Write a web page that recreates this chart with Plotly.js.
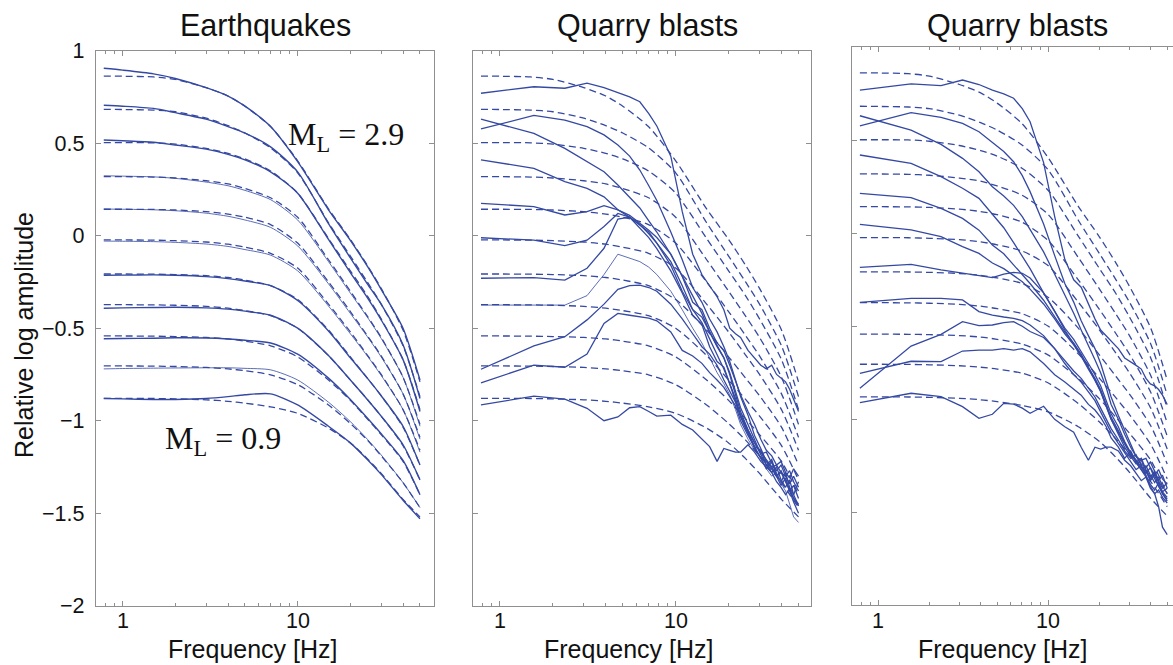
<!DOCTYPE html>
<html><head><meta charset="utf-8">
<script src="https://cdn.plot.ly/plotly-3.0.1.min.js"></script>
<style>html,body{margin:0;padding:0;background:#fff}#chart{width:1173px;height:665px}</style>
</head><body><div id="chart"></div>
<script>
// ---------- text ----------
const panelTitles = ["Earthquakes", "Quarry blasts", "Quarry blasts"];
const xTitle = "Frequency [Hz]";
const yTitle = "Relative log amplitude";
const labelHigh = "M<sub>L</sub> = 2.9";
const labelLow = "M<sub>L</sub> = 0.9";
const yTickVals = [-2, -1.5, -1, -0.5, 0, 0.5, 1];
const yTickText = ["\u22122", "\u22121.5", "\u22121", "\u22120.5", "0", "0.5", "1"];
const xTickVals = [1, 10];
const xTickText = ["1", "10"];
const xMinorVals = [0.8, 0.9, 2, 3, 4, 5, 6, 7, 8, 9, 20, 30, 40, 50];

// ---------- earthquakes: observed spectra (solid) ----------
const eqFreq = [0.78, 1, 1.5, 2, 3, 4, 5, 7, 10, 15, 20, 25, 30, 40, 50];
const eqObs1  = [0.905, 0.895, 0.875, 0.85, 0.80, 0.755, 0.70, 0.59, 0.40, 0.14, -0.025, -0.165, -0.29, -0.50, -0.78];
const eqObs2  = [0.705, 0.70, 0.688, 0.665, 0.63, 0.59, 0.555, 0.48, 0.345, 0.065, -0.12, -0.26, -0.37, -0.59, -0.88];
const eqObs3  = [0.517, 0.513, 0.505, 0.49, 0.468, 0.44, 0.41, 0.345, 0.23, -0.02, -0.20, -0.335, -0.455, -0.67, -0.95];
const eqObs4  = [0.324, 0.322, 0.318, 0.31, 0.29, 0.27, 0.245, 0.195, 0.085, -0.14, -0.31, -0.44, -0.555, -0.765, -1.03];
const eqObs5  = [0.144, 0.143, 0.14, 0.135, 0.122, 0.105, 0.085, 0.045, -0.055, -0.26, -0.42, -0.545, -0.655, -0.855, -1.10];
const eqObs6  = [-0.029, -0.03, -0.032, -0.036, -0.045, -0.058, -0.075, -0.105, -0.19, -0.38, -0.53, -0.65, -0.755, -0.94, -1.17];
const eqObs7  = [-0.214, -0.213, -0.212, -0.214, -0.221, -0.232, -0.245, -0.27, -0.35, -0.515, -0.66, -0.77, -0.865, -1.03, -1.24];
const eqObs8  = [-0.392, -0.39, -0.388, -0.387, -0.39, -0.397, -0.408, -0.43, -0.50, -0.648, -0.78, -0.885, -0.975, -1.13, -1.32];
const eqObs9  = [-0.557, -0.556, -0.554, -0.552, -0.553, -0.558, -0.565, -0.58, -0.64, -0.77, -0.885, -0.985, -1.07, -1.215, -1.40];
const eqObs10 = [-0.72, -0.718, -0.716, -0.715, -0.714, -0.714, -0.717, -0.725, -0.78, -0.90, -1.005, -1.10, -1.185, -1.335, -1.47];
const eqObs11 = [-0.88, -0.882, -0.885, -0.885, -0.88, -0.87, -0.86, -0.855, -0.915, -1.03, -1.12, -1.21, -1.29, -1.43, -1.53];

// ---------- model spectra (dashed), same in all panels ----------
const model1  = [0.863, 0.862, 0.858, 0.845, 0.80, 0.755, 0.70, 0.59, 0.405, 0.145, -0.02, -0.16, -0.285, -0.51, -0.79];
const model2  = [0.683, 0.682, 0.679, 0.67, 0.635, 0.595, 0.555, 0.475, 0.34, 0.07, -0.11, -0.25, -0.37, -0.595, -0.87];
const model3  = [0.503, 0.503, 0.502, 0.495, 0.472, 0.445, 0.415, 0.35, 0.23, -0.015, -0.19, -0.325, -0.45, -0.67, -0.94];
const model4  = [0.319, 0.319, 0.317, 0.312, 0.297, 0.28, 0.255, 0.205, 0.1, -0.13, -0.30, -0.435, -0.55, -0.765, -1.02];
const model5  = [0.143, 0.143, 0.142, 0.139, 0.13, 0.117, 0.1, 0.06, -0.04, -0.25, -0.41, -0.54, -0.65, -0.855, -1.09];
const model6  = [-0.023, -0.023, -0.024, -0.027, -0.034, -0.046, -0.062, -0.095, -0.175, -0.37, -0.52, -0.645, -0.75, -0.94, -1.16];
const model7  = [-0.207, -0.207, -0.208, -0.21, -0.216, -0.226, -0.24, -0.27, -0.345, -0.51, -0.655, -0.77, -0.865, -1.035, -1.24];
const model8  = [-0.373, -0.373, -0.374, -0.376, -0.382, -0.392, -0.405, -0.432, -0.50, -0.648, -0.78, -0.885, -0.975, -1.135, -1.32];
const model9  = [-0.542, -0.542, -0.543, -0.545, -0.55, -0.558, -0.57, -0.595, -0.655, -0.78, -0.89, -0.99, -1.075, -1.22, -1.40];
const model10 = [-0.704, -0.704, -0.705, -0.707, -0.712, -0.72, -0.73, -0.752, -0.805, -0.915, -1.015, -1.105, -1.19, -1.335, -1.47];
const model11 = [-0.879, -0.879, -0.88, -0.882, -0.887, -0.895, -0.905, -0.925, -0.96, -1.04, -1.12, -1.205, -1.285, -1.425, -1.52];

// ---------- quarry blasts (solid) ----------
const qbFreq = [0.78, 1.56, 2.34, 3.13, 3.91, 4.69, 5.47, 6.25, 7.03, 7.81, 9.38, 10.9, 12.5, 14.1, 15.6, 17.2, 18.8, 20.3, 21.9, 23.4, 25.8, 28.1, 30.5, 32.8, 35.2, 37.5, 39.8, 42.2, 44.5, 46.9, 50.0];
// panel 2
const qbA1  = [0.77, 0.805, 0.797, 0.825, 0.80, 0.775, 0.75, 0.724, 0.66, 0.593, 0.43, 0.13, -0.10, -0.21, -0.27, -0.33, -0.40, -0.50, -0.53, -0.55, -0.62, -0.66, -0.70, -0.72, -0.70, -0.75, -0.77, -0.79, -0.83, -0.88, -0.95];
const qbA2  = [0.577, 0.65, 0.625, 0.59, 0.545, 0.49, 0.43, 0.355, 0.27, 0.19, 0.02, -0.13, -0.28, -0.36, -0.45, -0.52, -0.60, -0.68, -0.78, -0.87, -0.97, -1.08, -1.15, -1.22, -1.25, -1.24, -1.28, -1.30, -1.27, -1.33, -1.38];
const qbA3  = [0.63, 0.553, 0.472, 0.40, 0.346, 0.274, 0.21, 0.15, 0.08, 0.02, -0.10, -0.22, -0.33, -0.42, -0.52, -0.60, -0.66, -0.75, -0.86, -0.95, -1.05, -1.12, -1.18, -1.24, -1.21, -1.29, -1.33, -1.28, -1.36, -1.40, -1.33];
const qbA4  = [0.41, 0.364, 0.292, 0.256, 0.21, 0.14, 0.10, 0.06, 0.02, -0.04, -0.16, -0.30, -0.40, -0.47, -0.56, -0.64, -0.72, -0.80, -0.90, -0.98, -1.07, -1.15, -1.20, -1.22, -1.26, -1.30, -1.27, -1.33, -1.38, -1.35, -1.42];
const qbA5  = [0.175, 0.157, 0.112, 0.13, 0.162, 0.14, 0.11, 0.07, 0.03, -0.01, -0.10, -0.22, -0.36, -0.40, -0.50, -0.58, -0.62, -0.70, -0.78, -0.86, -0.95, -1.02, -1.10, -1.16, -1.19, -1.24, -1.22, -1.28, -1.31, -1.26, -1.30];
const qbA6  = [-0.011, -0.024, -0.054, -0.024, 0.05, 0.12, 0.10, 0.06, 0.01, -0.04, -0.14, -0.27, -0.40, -0.44, -0.52, -0.59, -0.66, -0.74, -0.84, -0.93, -1.02, -1.10, -1.18, -1.17, -1.23, -1.27, -1.24, -1.30, -1.34, -1.30, -1.36];
const qbA7  = [-0.23, -0.227, -0.24, -0.176, -0.068, 0.09, 0.10, 0.04, -0.01, -0.07, -0.19, -0.31, -0.43, -0.48, -0.60, -0.68, -0.71, -0.80, -0.88, -0.97, -1.06, -1.14, -1.16, -1.24, -1.28, -1.25, -1.32, -1.36, -1.32, -1.40, -1.46];
const qbA8  = [-0.375, -0.375, -0.375, -0.324, -0.21, -0.10, -0.12, -0.14, -0.17, -0.21, -0.30, -0.40, -0.50, -0.58, -0.66, -0.74, -0.80, -0.86, -0.94, -1.02, -1.10, -1.16, -1.20, -1.26, -1.30, -1.28, -1.34, -1.38, -1.45, -1.52, -1.55];
const qbA9  = [-0.722, -0.596, -0.546, -0.455, -0.37, -0.29, -0.27, -0.267, -0.28, -0.30, -0.37, -0.45, -0.53, -0.60, -0.64, -0.70, -0.78, -0.84, -0.90, -0.97, -1.05, -1.12, -1.17, -1.21, -1.25, -1.30, -1.28, -1.33, -1.37, -1.42, -1.46];
const qbA10 = [-0.795, -0.70, -0.711, -0.64, -0.474, -0.42, -0.43, -0.437, -0.445, -0.46, -0.52, -0.62, -0.65, -0.69, -0.74, -0.78, -0.82, -0.87, -0.92, -1.00, -1.08, -1.14, -1.20, -1.26, -1.22, -1.30, -1.35, -1.31, -1.38, -1.44, -1.50];
const qbA11 = [-0.915, -0.867, -0.883, -0.933, -1.0, -0.98, -0.93, -0.924, -0.95, -0.975, -0.97, -1.02, -1.05, -1.10, -1.14, -1.22, -1.15, -1.16, -1.17, -1.17, -1.13, -1.17, -1.22, -1.25, -1.28, -1.33, -1.36, -1.40, -1.37, -1.42, -1.45];
// panel 3
const qbB1  = [0.77, 0.803, 0.794, 0.824, 0.80, 0.77, 0.75, 0.726, 0.67, 0.60, 0.38, 0.09, -0.14, -0.25, -0.29, -0.38, -0.46, -0.52, -0.55, -0.58, -0.62, -0.67, -0.69, -0.71, -0.73, -0.78, -0.81, -0.82, -0.84, -0.87, -0.92];
const qbB2  = [0.577, 0.649, 0.623, 0.591, 0.546, 0.489, 0.44, 0.385, 0.31, 0.224, 0.05, -0.12, -0.27, -0.37, -0.47, -0.55, -0.62, -0.70, -0.80, -0.88, -0.98, -1.06, -1.13, -1.20, -1.22, -1.21, -1.26, -1.30, -1.27, -1.32, -1.35];
const qbB3  = [0.632, 0.555, 0.478, 0.403, 0.331, 0.25, 0.20, 0.15, 0.09, 0.02, -0.10, -0.22, -0.33, -0.43, -0.52, -0.60, -0.68, -0.75, -0.83, -0.92, -1.00, -1.08, -1.15, -1.20, -1.24, -1.26, -1.23, -1.28, -1.33, -1.30, -1.37];
const qbB4  = [0.421, 0.376, 0.305, 0.242, 0.188, 0.10, 0.03, -0.05, -0.12, -0.19, -0.32, -0.42, -0.51, -0.57, -0.64, -0.70, -0.76, -0.82, -0.90, -0.97, -1.04, -1.12, -1.18, -1.22, -1.27, -1.25, -1.30, -1.34, -1.31, -1.36, -1.40];
const qbB5  = [0.215, 0.192, 0.134, 0.08, 0.017, -0.063, -0.11, -0.17, -0.22, -0.27, -0.36, -0.45, -0.53, -0.59, -0.65, -0.72, -0.78, -0.84, -0.92, -0.99, -1.06, -1.13, -1.18, -1.23, -1.21, -1.27, -1.31, -1.28, -1.33, -1.37, -1.34];
const qbB6  = [0.048, 0.018, -0.018, -0.072, -0.108, -0.16, -0.19, -0.225, -0.26, -0.30, -0.38, -0.46, -0.54, -0.60, -0.66, -0.73, -0.79, -0.85, -0.93, -1.00, -1.08, -1.15, -1.20, -1.24, -1.22, -1.28, -1.33, -1.30, -1.36, -1.39, -1.37];
const qbB7  = [-0.183, -0.167, -0.197, -0.215, -0.225, -0.238, -0.22, -0.21, -0.215, -0.24, -0.32, -0.42, -0.52, -0.60, -0.66, -0.72, -0.79, -0.85, -0.93, -1.00, -1.07, -1.13, -1.19, -1.22, -1.26, -1.29, -1.26, -1.32, -1.36, -1.40, -1.43];
const qbB8  = [-0.371, -0.35, -0.35, -0.358, -0.421, -0.44, -0.45, -0.457, -0.47, -0.493, -0.55, -0.62, -0.68, -0.74, -0.78, -0.83, -0.88, -0.94, -1.00, -1.05, -1.11, -1.17, -1.21, -1.19, -1.25, -1.28, -1.32, -1.29, -1.34, -1.39, -1.42];
const qbB9  = [-0.833, -0.606, -0.543, -0.475, -0.496, -0.493, -0.48, -0.475, -0.50, -0.528, -0.56, -0.62, -0.70, -0.76, -0.80, -0.85, -0.90, -0.96, -1.02, -1.07, -1.13, -1.18, -1.23, -1.27, -1.25, -1.30, -1.35, -1.38, -1.34, -1.40, -1.44];
const qbB10 = [-0.753, -0.688, -0.69, -0.633, -0.628, -0.628, -0.62, -0.628, -0.62, -0.637, -0.70, -0.76, -0.80, -0.84, -0.87, -0.92, -0.95, -0.99, -1.04, -1.10, -1.15, -1.21, -1.17, -1.23, -1.27, -1.31, -1.36, -1.40, -1.47, -1.58, -1.62];
const qbB11 = [-0.91, -0.86, -0.878, -0.932, -0.995, -0.973, -0.914, -0.918, -0.94, -0.968, -0.93, -1.0, -1.04, -1.07, -1.15, -1.22, -1.15, -1.16, -1.15, -1.15, -1.17, -1.22, -1.25, -1.29, -1.33, -1.31, -1.37, -1.40, -1.38, -1.42, -1.45];

// ---------- assemble ----------
const BLUE = '#3549a3';
const eqObs = [eqObs1, eqObs2, eqObs3, eqObs4, eqObs5, eqObs6, eqObs7, eqObs8, eqObs9, eqObs10, eqObs11];
const eqThin = [false, false, false, true, true, true, false, false, false, true, false];
const models = [model1, model2, model3, model4, model5, model6, model7, model8, model9, model10, model11];
const qbA = [qbA1, qbA2, qbA3, qbA4, qbA5, qbA6, qbA7, qbA8, qbA9, qbA10, qbA11];
const qbAThin = [false, false, false, false, false, false, false, true, false, false, false];
const qbB = [qbB1, qbB2, qbB3, qbB4, qbB5, qbB6, qbB7, qbB8, qbB9, qbB10, qbB11];

const traces = [];
const axes = [['x', 'y'], ['x2', 'y2'], ['x3', 'y3']];
axes.forEach(([xa, ya]) => {
  models.forEach(m => traces.push({x: eqFreq, y: m, xaxis: xa, yaxis: ya, mode: 'lines',
    line: {color: BLUE, width: 1.3, dash: '7px,4px', shape: 'spline', smoothing: 0.7}, hoverinfo: 'skip'}));
});
eqObs.forEach((s, i) => traces.push({x: eqFreq, y: s, xaxis: 'x', yaxis: 'y', mode: 'lines',
  line: {color: BLUE, width: eqThin[i] ? 0.8 : 1.4, shape: 'spline', smoothing: 0.7}, hoverinfo: 'skip'}));
qbA.forEach((s, i) => traces.push({x: qbFreq, y: s, xaxis: 'x2', yaxis: 'y2', mode: 'lines',
  line: {color: BLUE, width: qbAThin[i] ? 0.8 : 1.3}, hoverinfo: 'skip'}));
qbB.forEach(s => traces.push({x: qbFreq, y: s, xaxis: 'x3', yaxis: 'y3', mode: 'lines',
  line: {color: BLUE, width: 1.3}, hoverinfo: 'skip'}));

const W = 1173, H = 665;
const px = v => v / W, py = v => 1 - v / H;
const GREY = '#8f8f8f';
const tickFont = {family: 'Liberation Sans, Arial, sans-serif', size: 21.5, color: '#111'};
function xAxis(dom, range) {
  return {type: 'log', domain: dom, range: range, showgrid: false, zeroline: false,
    showline: true, linecolor: GREY, linewidth: 1, mirror: 'ticks',
    ticks: 'inside', ticklen: 5, tickcolor: GREY, tickwidth: 1,
    tickmode: 'array', tickvals: xTickVals, ticktext: xTickText, showticklabels: false,
    minor: {tickmode: 'array', tickvals: xMinorVals, ticks: 'inside', ticklen: 3, tickcolor: GREY, tickwidth: 1, showgrid: false}};
}
function yAxis(dom, labels, mirror) {
  return {domain: dom, range: [-2, 1], showgrid: false, zeroline: false,
    showline: true, linecolor: GREY, linewidth: 1, mirror: mirror,
    ticks: 'inside', ticklen: 5, tickcolor: GREY, tickwidth: 1,
    tickmode: 'array', tickvals: yTickVals, ticktext: yTickText,
    showticklabels: labels, tickfont: tickFont, ticklabelstandoff: 6};
}
const titleFont = {family: 'Liberation Sans, Arial, sans-serif', size: 30.5, color: '#111'};
const axTitleFont = {family: 'Liberation Sans, Arial, sans-serif', size: 25, color: '#111'};
const serif = {family: 'Liberation Serif, Times New Roman, serif', size: 32, color: '#111'};

const annotations = [
  {text: panelTitles[0], x: px(265.5), y: py(25), xref: 'paper', yref: 'paper', showarrow: false, xanchor: 'center', yanchor: 'middle', font: titleFont},
  {text: panelTitles[1], x: px(647.5), y: py(25), xref: 'paper', yref: 'paper', showarrow: false, xanchor: 'center', yanchor: 'middle', font: titleFont},
  {text: panelTitles[2], x: px(1017.3), y: py(25), xref: 'paper', yref: 'paper', showarrow: false, xanchor: 'center', yanchor: 'middle', font: titleFont},
  {text: xTitle, x: px(252.5), y: py(649), xref: 'paper', yref: 'paper', showarrow: false, xanchor: 'center', yanchor: 'middle', font: axTitleFont},
  {text: xTitle, x: px(629), y: py(649), xref: 'paper', yref: 'paper', showarrow: false, xanchor: 'center', yanchor: 'middle', font: axTitleFont},
  {text: xTitle, x: px(1003), y: py(649), xref: 'paper', yref: 'paper', showarrow: false, xanchor: 'center', yanchor: 'middle', font: axTitleFont},
  {text: yTitle, x: px(24), y: py(335), xref: 'paper', yref: 'paper', showarrow: false, xanchor: 'center', yanchor: 'middle', textangle: -90, font: axTitleFont},
  {text: labelHigh, x: px(286), y: py(136), xref: 'paper', yref: 'paper', showarrow: false, xanchor: 'left', yanchor: 'middle', font: serif},
  {text: labelLow, x: px(163), y: py(441), xref: 'paper', yref: 'paper', showarrow: false, xanchor: 'left', yanchor: 'middle', font: serif}
];
// x tick labels placed on each log axis (x given in log10 units, as Plotly expects for log axes)
['x', 'x2', 'x3'].forEach(xr => {
  xTickVals.forEach((v, i) => annotations.push({text: xTickText[i], x: Math.log10(v), y: py(620.5), xref: xr, yref: 'paper',
    showarrow: false, xanchor: 'center', yanchor: 'middle', font: tickFont}));
});

const layout = {
  width: W, height: H, margin: {l: 0, r: 0, t: 0, b: 0},
  paper_bgcolor: '#fff', plot_bgcolor: '#fff', showlegend: false,
  xaxis: xAxis([px(95.7), px(434)], [-0.154, 1.779]),
  yaxis: yAxis([py(605.7), py(50.7)], true, 'ticks'),
  xaxis2: Object.assign(xAxis([px(472.7), px(811)], [-0.155, 1.770]), {anchor: 'y2'}),
  yaxis2: Object.assign(yAxis([py(605.7), py(50.7)], false, 'ticks'), {anchor: 'x2'}),
  xaxis3: Object.assign(xAxis([px(851.7), 1], [-0.156, 1.733]), {anchor: 'y3'}),
  yaxis3: Object.assign(yAxis([py(605.3), py(47.3)], false, false), {anchor: 'x3'}),
  annotations: annotations
};
Plotly.newPlot('chart', traces, layout, {staticPlot: true, displayModeBar: false});
</script>
</body></html>
